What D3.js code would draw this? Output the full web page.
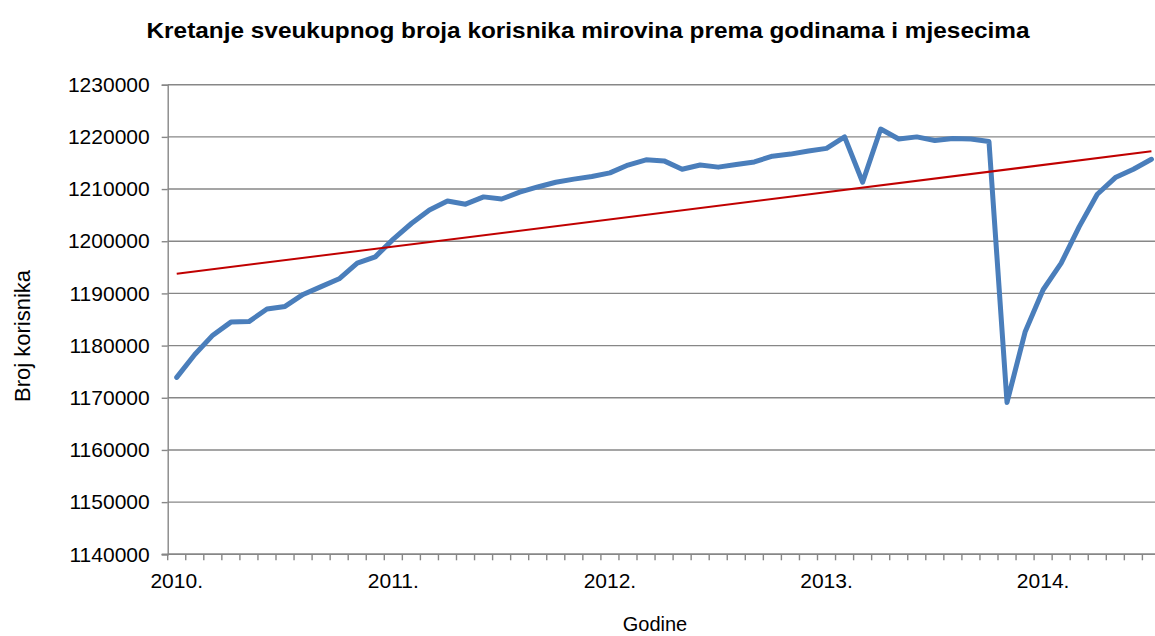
<!DOCTYPE html>
<html>
<head>
<meta charset="utf-8">
<script src="https://d3js.org/d3.v7.min.js"></script>
<style>
    body { margin: 0; background: #fff; }
    text { font-family: Arial, "Liberation Sans", sans-serif; fill: #000; }
    .chartTitle { font-weight: bold; font-size: 22px; }
    .tickLabel { font-size: 21px; }
    .axisTitle { font-size: 20px; }
</style>
</head>
<body>
<script>
//wrap everything in a self-executing anonymous function
(function(){

//years shown on the category axis
var years = ["2010.", "2011.", "2012.", "2013.", "2014."];

//monthly categories, January 2010 to July 2014
var months = [];
years.forEach(function(y){
    for (var m = 1; m <= 12; m++){
        months.push(m + "." + y);
    }
});
months = months.slice(0, 55);

//number of pension beneficiaries per month
var korisnici = [
    1173900, 1178300, 1182000, 1184500, 1184600, 1187000, 1187500, 1189800, 1191300, 1192800, 1195800, 1197000,
    1200400, 1203400, 1206000, 1207700, 1207100, 1208500, 1208100, 1209400, 1210400, 1211300, 1211900, 1212400,
    1213100, 1214600, 1215600, 1215400, 1213800, 1214600, 1214200, 1214700, 1215200, 1216300, 1216700, 1217300,
    1217800, 1220000, 1211300, 1221500, 1219600, 1220000, 1219300, 1219700, 1219600, 1219100, 1169100, 1182600,
    1190700, 1195800, 1202800, 1209000, 1212200, 1213800, 1215700
];

//y axis tick values
var yTicks = [1140000, 1150000, 1160000, 1170000, 1180000, 1190000, 1200000, 1210000, 1220000, 1230000];

var title = "Kretanje sveukupnog broja korisnika mirovina prema godinama i mjesecima",
    xTitle = "Godine",
    yTitle = "Broj korisnika";

window.onload = setChart();

function setChart(){
    //frame dimensions
    var width = 1155,
        height = 636,
        left = 167.7,
        top = 84.7,
        bottom = 554.3,
        step = 18.05,
        right = left + step * months.length;

    var svg = d3.select("body")
        .append("svg")
        .attr("width", width)
        .attr("height", height);

    //scales
    var xScale = d3.scaleBand()
        .domain(months)
        .range([left, right]);

    var yScale = d3.scaleLinear()
        .domain([1140000, 1230000])
        .range([bottom, top]);

    var center = function(d){ return xScale(d) + xScale.bandwidth() / 2; };

    //horizontal gridlines
    svg.selectAll(".gridLine")
        .data(yTicks)
        .enter()
        .append("line")
        .attr("class", "gridLine")
        .attr("x1", left)
        .attr("x2", right)
        .attr("y1", function(d){ return yScale(d); })
        .attr("y2", function(d){ return yScale(d); })
        .attr("stroke", "#878787")
        .attr("stroke-width", 1.4);

    //vertical axis
    var yAxis = d3.axisLeft(yScale)
        .tickValues(yTicks)
        .tickSize(6)
        .tickPadding(12)
        .tickFormat(d3.format("d"));

    var yAx = svg.append("g")
        .attr("transform", "translate(" + left + ",0)")
        .call(yAxis);
    yAx.select(".domain").attr("stroke", "#878787").attr("stroke-width", 1.4);
    yAx.selectAll(".tick line").attr("stroke", "#878787").attr("stroke-width", 1.4);
    yAx.selectAll(".tick text").attr("class", "tickLabel");
    yAx.attr("font-size", null).attr("font-family", null);

    //horizontal axis: ticks between months
    var boundaries = months.map(function(d){ return xScale(d); });
    svg.append("line")
        .attr("x1", left - 6)
        .attr("x2", right)
        .attr("y1", bottom)
        .attr("y2", bottom)
        .attr("stroke", "#878787")
        .attr("stroke-width", 1.4);

    svg.selectAll(".xTick")
        .data(boundaries)
        .enter()
        .append("line")
        .attr("class", "xTick")
        .attr("x1", function(d){ return d; })
        .attr("x2", function(d){ return d; })
        .attr("y1", bottom)
        .attr("y2", bottom + 6)
        .attr("stroke", "#878787")
        .attr("stroke-width", 1.4);

    //year labels under January of each year
    svg.selectAll(".yearLabel")
        .data(months.filter(function(d){ return d.indexOf("1.") === 0 && d.length === 7; }))
        .enter()
        .append("text")
        .attr("class", "tickLabel")
        .attr("x", center)
        .attr("y", 588)
        .attr("text-anchor", "middle")
        .text(function(d){ return d.slice(2); });

    //linear trend line (least squares over the monthly values)
    var n = korisnici.length,
        mx = d3.mean(d3.range(n)),
        my = d3.mean(korisnici),
        sxy = d3.sum(korisnici, function(v, i){ return (i - mx) * (v - my); }),
        sxx = d3.sum(d3.range(n), function(i){ return (i - mx) * (i - mx); }),
        slope = sxy / sxx,
        intercept = my - slope * mx;

    var line = d3.line()
        .x(function(d, i){ return center(months[i]); })
        .y(function(d){ return yScale(d); });

    //data line
    svg.append("path")
        .datum(korisnici)
        .attr("d", line)
        .attr("fill", "none")
        .attr("stroke", "#4A7EBB")
        .attr("stroke-width", 5)
        .attr("stroke-linejoin", "round")
        .attr("stroke-linecap", "round");

    svg.append("path")
        .datum([intercept, intercept + slope * (n - 1)])
        .attr("d", d3.line()
            .x(function(d, i){ return center(months[i * (n - 1)]); })
            .y(function(d){ return yScale(d); }))
        .attr("fill", "none")
        .attr("stroke", "#C00000")
        .attr("stroke-width", 2);

    //titles
    svg.append("text")
        .attr("class", "chartTitle")
        .attr("x", 588)
        .attr("y", 38)
        .attr("text-anchor", "middle")
        .attr("textLength", 883)
        .attr("lengthAdjust", "spacingAndGlyphs")
        .text(title);

    svg.append("text")
        .attr("class", "axisTitle")
        .attr("x", 655)
        .attr("y", 631)
        .attr("text-anchor", "middle")
        .text(xTitle);

    svg.append("text")
        .attr("class", "axisTitle")
        .attr("transform", "translate(30,336) rotate(-90)")
        .attr("text-anchor", "middle")
        .attr("font-size", 22)
        .style("font-size", "22px")
        .text(yTitle);
};
})();
</script>
</body>
</html>
